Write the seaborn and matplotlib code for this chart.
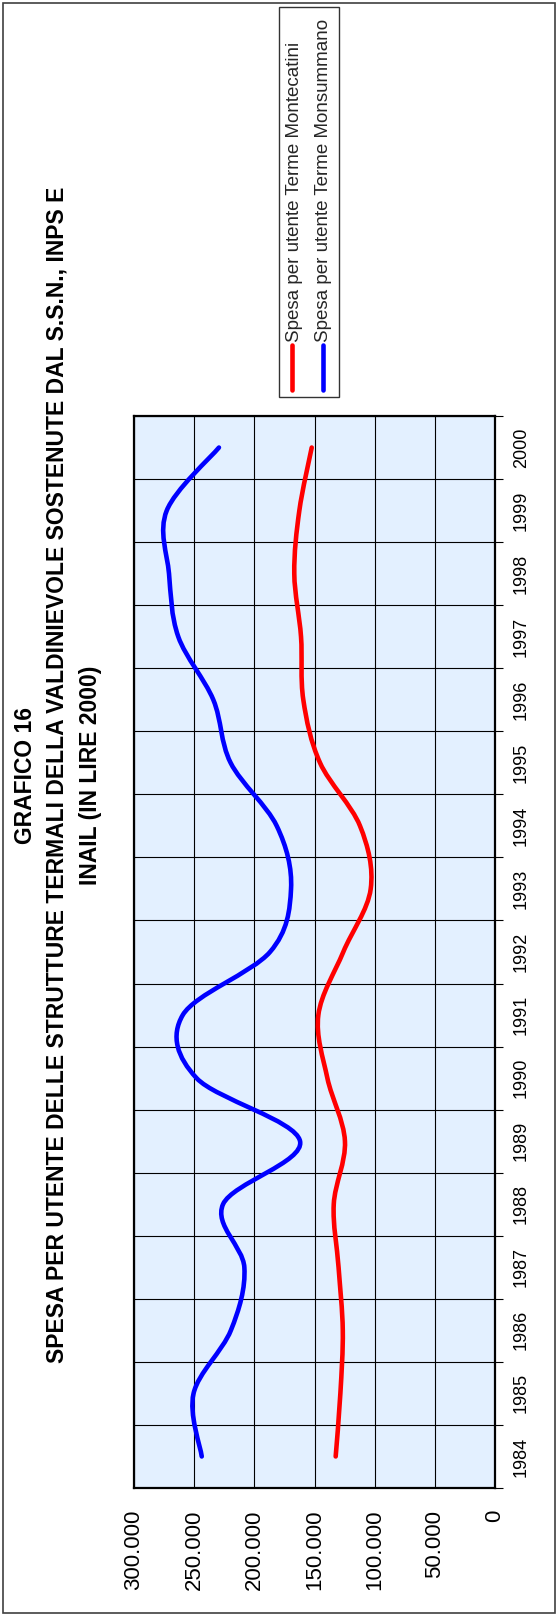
import matplotlib
matplotlib.use('Agg')
import matplotlib.pyplot as plt
from matplotlib.path import Path
from matplotlib.patches import PathPatch, Rectangle
from matplotlib.lines import Line2D
import numpy as np
import seaborn as sns

# Data (lire 2000), one value per year
YEARS = [str(y) for y in range(1984, 2001)]
MONTECATINI = [132400, 128500, 126500, 130000, 134000, 124700, 139300, 146800, 126100,
               103300, 112200, 145400, 159300, 161200, 166800, 162600, 152300]
MONSUMMANO = [243700, 250500, 219500, 208300, 226000, 162000, 248000, 259500, 187000,
              169500, 181400, 219700, 234100, 263200, 270900, 272800, 229400]
VALUE_TICKS = [0, 50000, 100000, 150000, 200000, 250000, 300000]
LABELS = ['Spesa per utente Terme Montecatini', 'Spesa per utente Terme Monsummano']
TITLE = ['GRAFICO 16',
         'SPESA PER UTENTE DELLE STRUTTURE TERMALI DELLA VALDINIEVOLE SOSTENUTE DAL S.S.N., INPS E',
         'INAIL (IN LIRE 2000)']

sns.set_theme(style='white')
plt.rcParams['font.family'] = ['Liberation Sans', 'DejaVu Sans']

W, H = 557, 1619


def fx(px):
    return px / W


def fy(py):
    return 1 - py / H


def smooth_path(xs, ys):
    """Excel-like smoothed line: cubic bezier through every point."""
    pts = np.column_stack([xs, ys]).astype(float)
    n = len(pts)
    verts = [pts[0]]
    codes = [Path.MOVETO]
    for i in range(n - 1):
        p0 = pts[max(i - 1, 0)]
        p1 = pts[i]
        p2 = pts[i + 1]
        p3 = pts[min(i + 2, n - 1)]
        verts += [p1 + (p2 - p0) / 6, p2 - (p3 - p1) / 6, p2]
        codes += [Path.CURVE4] * 3
    return Path(verts, codes)


fig = plt.figure(figsize=(W / 100, H / 100), dpi=100)
ax = fig.add_axes([fx(134), fy(1488), fx(495) - fx(134), fy(416) - fy(1488)])
ax.set_facecolor('#E3F0FF')

pos = np.arange(len(YEARS))
for vals, col in [(MONTECATINI, '#FF0000'), (MONSUMMANO, '#0000FF')]:
    ax.add_patch(PathPatch(smooth_path(vals, pos), fill=False, edgecolor=col,
                           lw=3.3, capstyle='round', joinstyle='round', zorder=3))

ax.set_xlim(300000, 0)
ax.set_ylim(-0.5, len(YEARS) - 0.5)
ax.set_xticks(VALUE_TICKS)
ax.set_xticklabels([f'{v:,}'.replace(',', '.') for v in VALUE_TICKS], rotation=90, fontsize=16)

ax.yaxis.tick_right()
ax.set_yticks(np.arange(-0.5, len(YEARS), 1))
ax.set_yticklabels([])
ax.set_yticks(pos, minor=True)
ax.set_yticklabels(YEARS, minor=True, rotation=90, va='center', fontsize=13)

ax.tick_params(axis='both', which='major', direction='out', length=5.5, width=0.8,
               color='black', labelcolor='black')
ax.tick_params(axis='x', pad=10)
ax.tick_params(axis='y', which='minor', length=0, pad=13, labelcolor='black')
ax.grid(True, which='major', color='black', lw=0.8)
for s in ax.spines.values():
    s.set_visible(True)
    s.set_color('black')
    s.set_linewidth(1.6)

# title, rotated like the page
for txt, x in zip(TITLE, [26, 57.5, 90]):
    fig.text(fx(x), fy(775), txt, rotation=90, ha='center', va='center',
             fontsize=16.5, fontweight='bold', color='black')

# legend box drawn by hand (rotated)
fig.patches.append(Rectangle((fx(279), fy(397)), fx(339) - fx(279), fy(7) - fy(397),
                             transform=fig.transFigure, fill=False, edgecolor='#333333', lw=1))
for lab, col, lx, tx in zip(LABELS, ['#FF0000', '#0000FF'], [292, 322.5], [294.5, 324]):
    fig.lines.append(Line2D([fx(lx), fx(lx)], [fy(390), fy(345)], transform=fig.transFigure,
                            color=col, lw=3.3, solid_capstyle='round'))
    fig.text(fx(tx), fy(342), lab, rotation=90, ha='center', va='bottom', fontsize=13.5)

# outer frame
fig.patches.append(Rectangle((fx(3), fy(1613)), fx(555) - fx(3), fy(3) - fy(1613),
                             transform=fig.transFigure, fill=False, edgecolor='#404040', lw=1.2))

fig.savefig('out.png', dpi=100)
